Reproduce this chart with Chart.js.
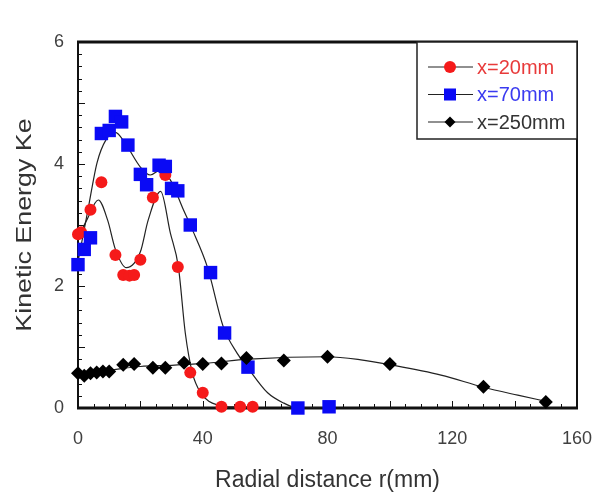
<!DOCTYPE html>
<html>
<head>
<meta charset="utf-8">
<script src="https://cdn.jsdelivr.net/npm/chart.js@4.4.1/dist/chart.umd.min.js"></script>
<style>
    html, body { margin: 0; padding: 0; background: #ffffff; }
    #wrap { width: 592px; height: 492px; }
</style>
</head>
<body>
<div id="wrap"><canvas id="chart" width="592" height="492"></canvas></div>
<script>
// measured points, radial distance r (mm) vs kinetic energy Ke
const seriesLabels = ["x=20mm", "x=70mm", "x=250mm"];
const seriesColors = ["#f51a1a", "#0a0af5", "#000000"];
const textColors = ["#e83a3a", "#3a3af0", "#333333"];

const r20 = [0, 1, 4, 7.5, 12, 14.5, 16.5, 18, 20, 24, 28, 32, 36, 40, 46, 52, 56];
const ke20 = [2.85, 2.88, 3.25, 3.7, 2.51, 2.18, 2.17, 2.18, 2.43, 3.45, 3.82, 2.31, 0.58, 0.25, 0.02, 0.02, 0.02];

const r70 = [0, 2, 4, 7.5, 10, 12, 14, 16, 20, 22, 26, 28, 30, 32, 36, 42.5, 47, 54.5, 70.5, 80.5];
const ke70 = [2.35, 2.6, 2.79, 4.5, 4.55, 4.78, 4.69, 4.31, 3.83, 3.66, 3.98, 3.96, 3.6, 3.56, 3.0, 2.22, 1.23, 0.67, 0, 0.02];

const r250 = [0, 2, 4, 6, 8, 10, 14.5, 18, 24, 28, 34, 40, 46, 54, 66, 80, 100, 130, 150];
const ke250 = [0.57, 0.53, 0.57, 0.58, 0.6, 0.6, 0.71, 0.72, 0.66, 0.66, 0.74, 0.72, 0.73, 0.82, 0.78, 0.84, 0.72, 0.35, 0.1];

// the thin smoothed curves drawn through each set
const fit20R = [0, 3, 6.5, 9.5, 12, 15.5, 20, 22.5, 26.5, 29.6, 32.2, 34.4, 36.7, 39.2, 44.7, 50, 56];
const fit20Ke = [2.78, 3.1, 3.41, 3.08, 2.6, 2.3, 2.56, 3.08, 3.55, 2.87, 2.31, 1.23, 0.57, 0.26, 0.05, 0.02, 0.02];

const fit70R = [0, 3.2, 6.1, 9, 12, 15, 20, 23.2, 26.4, 29.6, 33.8, 36.7, 41.5, 46.6, 51, 54.3, 60.8, 66, 70.4, 80.5];
const fit70Ke = [2.4, 3.25, 4.02, 4.4, 4.52, 4.35, 3.95, 3.82, 3.9, 3.74, 3.25, 2.92, 2.31, 1.33, 0.9, 0.67, 0.25, 0.08, 0, 0];

const fit250R = [0, 10, 20, 30, 40, 55, 80, 90.7, 100, 116.4, 130, 141, 150];
const fit250Ke = [0.57, 0.62, 0.68, 0.7, 0.73, 0.8, 0.84, 0.79, 0.71, 0.54, 0.34, 0.21, 0.11];

const xTickLabels = [0, 40, 80, 120, 160];
const yTickLabels = [0, 2, 4, 6];
const yTitle = "Kinetic Energy Ke";

const fontFamily = "'Liberation Sans', Arial, sans-serif";

function toPoints(xs, ys) {
    return xs.map((x, i) => ({ x: x, y: ys[i] }));
}

function near(v, list) {
    return list.some(t => Math.abs(t - v) < 1e-6);
}

const markerSets = [
    { label: seriesLabels[0], data: toPoints(r20, ke20), pointStyle: "circle", pointRadius: 6,
      backgroundColor: seriesColors[0], order: 2 },
    { label: seriesLabels[1], data: toPoints(r70, ke70), pointStyle: "rect", pointRadius: 9.5,
      backgroundColor: seriesColors[1], order: 1 },
    { label: seriesLabels[2], data: toPoints(r250, ke250), pointStyle: "rectRot", pointRadius: 7,
      backgroundColor: seriesColors[2], order: 0 }
];

const curveSets = [
    toPoints(fit20R, fit20Ke),
    toPoints(fit70R, fit70Ke),
    toPoints(fit250R, fit250Ke)
];

const datasets = [];
markerSets.forEach(m => {
    datasets.push({
        label: m.label,
        data: m.data,
        showLine: false,
        pointStyle: m.pointStyle,
        pointRadius: m.pointRadius,
        pointHoverRadius: m.pointRadius,
        pointBackgroundColor: m.backgroundColor,
        pointBorderColor: m.backgroundColor,
        pointBorderWidth: 0,
        clip: false,
        order: m.order
    });
});
curveSets.forEach((pts, i) => {
    datasets.push({
        label: "fit " + seriesLabels[i],
        data: pts,
        showLine: true,
        pointRadius: 0,
        borderColor: "#222222",
        borderWidth: 1.2,
        cubicInterpolationMode: "monotone",
        order: 5
    });
});

// frame and inward tick marks, drawn under the markers
const frameAndTicks = {
    id: "frameAndTicks",
    beforeDatasetsDraw(chart) {
        const ctx = chart.ctx;
        const a = chart.chartArea;
        const xs = chart.scales.x;
        const ys = chart.scales.y;
        ctx.save();
        ctx.strokeStyle = "#111111";
        ctx.lineWidth = 1;
        ctx.beginPath();
        xs.ticks.forEach(t => {
            const px = Math.round(xs.getPixelForValue(t.value)) + 0.5;
            const len = Math.abs(t.value % 20) < 1e-6 ? 7 : 4;
            ctx.moveTo(px, a.bottom);
            ctx.lineTo(px, a.bottom - len);
        });
        ys.ticks.forEach(t => {
            const py = Math.round(ys.getPixelForValue(t.value)) + 0.5;
            const len = Math.abs(t.value - Math.round(t.value)) < 1e-6 ? 7 : 4;
            ctx.moveTo(a.left, py);
            ctx.lineTo(a.left + len, py);
        });
        ctx.stroke();

        ctx.lineWidth = 2;
        ctx.beginPath();
        ctx.moveTo(a.left, a.top);
        ctx.lineTo(a.left, a.bottom);
        ctx.moveTo(a.right, a.top);
        ctx.lineTo(a.right, a.bottom);
        ctx.stroke();
        ctx.lineWidth = 3;
        ctx.beginPath();
        ctx.moveTo(a.left - 1, a.top);
        ctx.lineTo(a.right + 1, a.top);
        ctx.moveTo(a.left - 1, a.bottom);
        ctx.lineTo(a.right + 1, a.bottom);
        ctx.stroke();
        ctx.restore();
    }
};

// the y title in the figure is stretched along its length, so draw it by hand
const stretchedYTitle = {
    id: "stretchedYTitle",
    afterDraw(chart) {
        const ctx = chart.ctx;
        const a = chart.chartArea;
        ctx.save();
        ctx.translate(25, (a.top + a.bottom) / 2);
        ctx.rotate(-Math.PI / 2);
        ctx.scale(1.22, 1);
        ctx.fillStyle = "#333333";
        ctx.font = "22px " + fontFamily;
        ctx.textAlign = "center";
        ctx.textBaseline = "middle";
        ctx.fillText(yTitle, 0, 0);
        ctx.restore();
    }
};

// boxed legend sitting in the top right corner of the plot
const insideLegend = {
    id: "insideLegend",
    afterDraw(chart) {
        const ctx = chart.ctx;
        const a = chart.chartArea;
        const left = a.right - 160;
        const bottom = a.top + 97;
        ctx.save();
        ctx.fillStyle = "#ffffff";
        ctx.fillRect(left, a.top, a.right - left, bottom - a.top);
        ctx.strokeStyle = "#222222";
        ctx.lineWidth = 1.5;
        ctx.strokeRect(left, a.top, a.right - left, bottom - a.top);

        markerSets.forEach((m, i) => {
            const y = a.top + 25 + i * 27.5;
            ctx.strokeStyle = "#222222";
            ctx.lineWidth = 1.2;
            ctx.beginPath();
            ctx.moveTo(left + 11, y);
            ctx.lineTo(left + 56, y);
            ctx.stroke();
            ctx.fillStyle = m.backgroundColor;
            ctx.strokeStyle = m.backgroundColor;
            Chart.helpers.drawPoint(ctx, {
                pointStyle: m.pointStyle,
                radius: m.pointStyle === "circle" ? 6 : (m.pointStyle === "rect" ? 8.5 : 5.5),
                rotation: 0,
                borderWidth: 0
            }, left + 33, y);
            ctx.fillStyle = textColors[i];
            ctx.font = "20px " + fontFamily;
            ctx.textAlign = "left";
            ctx.textBaseline = "middle";
            ctx.fillText(m.label, left + 60, y + 1);
        });
        ctx.restore();
    }
};

const chart = new Chart(document.getElementById("chart"), {
    type: "scatter",
    data: { datasets: datasets },
    options: {
        responsive: false,
        animation: false,
        devicePixelRatio: 1,
        layout: { padding: { top: 42, right: 15, left: 0, bottom: 0 } },
        scales: {
            x: {
                type: "linear",
                min: 0,
                max: 160,
                grid: { display: false },
                border: { display: false },
                afterFit: function(scale) {
                    scale.height = 84;
                    scale.paddingLeft = 0;
                    scale.paddingRight = 0;
                },
                ticks: {
                    stepSize: 5,
                    autoSkip: false,
                    maxRotation: 0,
                    padding: 12,
                    color: "#404040",
                    font: { family: fontFamily, size: 18 },
                    callback: function(value) {
                        return near(value, xTickLabels) ? String(value) : "";
                    }
                },
                title: {
                    display: true,
                    text: "Radial distance r(mm)",
                    color: "#333333",
                    padding: { top: 0, bottom: 0 },
                    font: { family: fontFamily, size: 23, lineHeight: 1 }
                }
            },
            y: {
                type: "linear",
                min: 0,
                max: 6,
                grid: { display: false },
                border: { display: false },
                afterFit: function(scale) {
                    scale.width = 78;
                    scale.paddingTop = 0;
                    scale.paddingBottom = 0;
                },
                ticks: {
                    stepSize: 0.2,
                    autoSkip: false,
                    padding: 6,
                    color: "#404040",
                    font: { family: fontFamily, size: 18 },
                    callback: function(value) {
                        return near(value, yTickLabels) ? String(Math.round(value)) : "";
                    }
                },
                title: { display: false }
            }
        },
        plugins: {
            legend: { display: false },
            tooltip: { enabled: false },
            title: { display: false }
        }
    },
    plugins: [frameAndTicks, stretchedYTitle, insideLegend]
});
</script>
</body>
</html>
